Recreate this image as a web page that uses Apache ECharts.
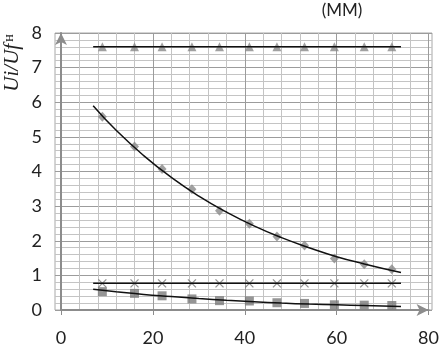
<!DOCTYPE html>
<html>
<head>
<meta charset="utf-8">
<script src="https://cdn.jsdelivr.net/npm/echarts@6/dist/echarts.min.js"></script>
<style>
  html, body {margin: 0; padding: 0; background: #fff;}
  #chart {width: 442px; height: 350px;}
</style>
</head>
<body>
<div id="chart"></div>
<script>
// measured points
var xPoints = [9, 16, 22, 28.5, 34.5, 41, 47, 53, 59.5, 66, 72];
var triangleVals = [7.6, 7.6, 7.6, 7.6, 7.6, 7.6, 7.6, 7.6, 7.6, 7.6, 7.6];
var diamondVals = [5.58, 4.72, 4.07, 3.49, 2.87, 2.49, 2.12, 1.86, 1.49, 1.32, 1.18];
var crossVals = [0.77, 0.77, 0.77, 0.77, 0.77, 0.77, 0.77, 0.77, 0.77, 0.77, 0.77];
var squareVals = [0.53, 0.48, 0.41, 0.32, 0.27, 0.26, 0.21, 0.19, 0.15, 0.14, 0.13];

// trend lines
var trendX = [7, 12, 18, 24, 30, 36, 42, 48, 54, 60, 66, 74];
var diamondTrend = [5.90, 5.19, 4.46, 3.83, 3.29, 2.83, 2.43, 2.09, 1.80, 1.54, 1.33, 1.08];
var squareTrend = [0.60, 0.53, 0.45, 0.39, 0.33, 0.28, 0.24, 0.20, 0.17, 0.15, 0.13, 0.10];
var flatX = [7, 74];
var triangleTrend = [7.6, 7.6];
var crossTrend = [0.77, 0.77];

var xTicks = {min: 0, max: 80, interval: 20};
var yTicks = {min: 0, max: 8, interval: 1};

function pairs(xs, ys) {
    return xs.map(function (x, i) { return [x, ys[i]]; });
}

var markerColor = '#8a8a8a';
var labelFont = {fontFamily: 'Lato', fontSize: 18, color: '#222'};

function scatter(name, symbol, size, vals, extra) {
    var s = {
        name: name, type: 'scatter', xAxisIndex: 1, yAxisIndex: 1,
        symbol: symbol, symbolSize: size,
        itemStyle: {color: markerColor},
        data: pairs(xPoints, vals), z: 3
    };
    return Object.assign(s, extra || {});
}

function trend(xs, ys, smooth) {
    return {
        type: 'line', xAxisIndex: 1, yAxisIndex: 1, smooth: smooth,
        showSymbol: false, silent: true,
        lineStyle: {color: '#111', width: 1.5},
        data: pairs(xs, ys), z: 4
    };
}

var chart = echarts.init(document.getElementById('chart'));
chart.setOption({
    animation: false,
    grid: [
        {left: 55, right: 10, top: 33, bottom: 40, show: true, borderColor: '#a8a8a8', borderWidth: 1},
        {left: 61, right: 10, top: 33, bottom: 40}
    ],
    xAxis: [
        {gridIndex: 0, type: 'value', min: 0, max: 1, show: false},
        {
            gridIndex: 1, type: 'value', min: xTicks.min, max: xTicks.max, interval: xTicks.interval,
            axisLine: {show: true, symbol: ['none', 'arrow'], symbolSize: [9, 12],
                lineStyle: {color: '#8c8c8c', width: 2}},
            axisTick: {show: true, length: 5, lineStyle: {color: '#8c8c8c'}},
            axisLabel: Object.assign({margin: 19}, labelFont),
            splitLine: {show: true, lineStyle: {color: '#9c9c9c', width: 1}},
            minorTick: {show: false, splitNumber: 5},
            minorSplitLine: {show: true, lineStyle: {color: '#c4c4c4', width: 1}}
        }
    ],
    yAxis: [
        {
            gridIndex: 0, type: 'value', min: yTicks.min, max: yTicks.max, interval: yTicks.interval,
            axisLine: {show: false}, axisTick: {show: false}, axisLabel: {show: false},
            splitLine: {show: true, lineStyle: {color: '#9c9c9c', width: 1}},
            minorTick: {show: false, splitNumber: 5},
            minorSplitLine: {show: true, lineStyle: {color: '#c4c4c4', width: 1}}
        },
        {
            gridIndex: 1, type: 'value', min: yTicks.min, max: yTicks.max, interval: yTicks.interval,
            axisLine: {show: true, symbol: ['none', 'arrow'], symbolSize: [9, 12],
                lineStyle: {color: '#8c8c8c', width: 2}},
            axisTick: {show: false},
            axisLabel: Object.assign({margin: 19}, labelFont),
            splitLine: {show: false}
        }
    ],
    graphic: [
        {
            type: 'text', x: 12, y: 63, rotation: Math.PI / 2,
            style: {
                text: 'Ui/Uf{h|н}',
                font: 'italic 21px "Liberation Serif"',
                fill: '#222', align: 'center', verticalAlign: 'middle',
                rich: {h: {fontFamily: 'Liberation Serif', fontStyle: 'normal', fontSize: 14,
                    fill: '#222', padding: [0, 0, 5, 2]}}
            }
        },
        {
            type: 'text', x: 342, y: 11,
            style: {text: '(MM)', font: '17px Lato', fill: '#222', align: 'center', verticalAlign: 'middle'}
        }
    ],
    series: [
        trend(flatX, triangleTrend, false),
        trend(trendX, diamondTrend, true),
        trend(flatX, crossTrend, false),
        trend(trendX, squareTrend, true),
        scatter('triangle', 'triangle', 9, triangleVals),
        scatter('diamond', 'diamond', [9, 10], diamondVals),
        scatter('square', 'rect', 9, squareVals, {itemStyle: {color: '#7a7a7a'}}),
        scatter('cross', 'path://M0,0L10,10M10,0L0,10', 8, crossVals,
            {itemStyle: {color: 'none', borderColor: '#777', borderWidth: 1.3}})
    ]
});
</script>
</body>
</html>
